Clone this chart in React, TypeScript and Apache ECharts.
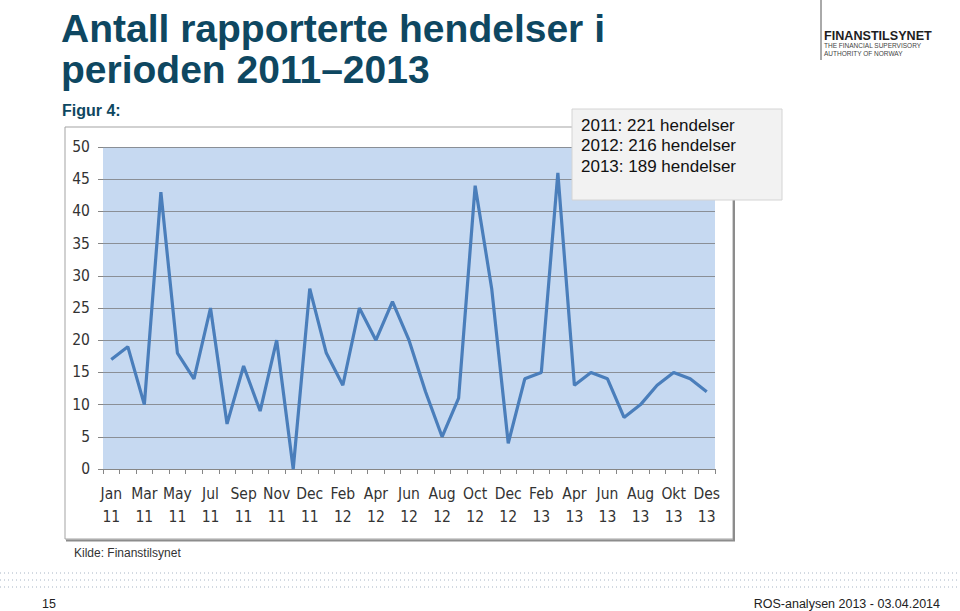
import React, { useEffect, useRef } from "react";
import * as echarts from "echarts";

const categories = [
  "Jan 11", "Feb 11", "Mar 11", "Apr 11", "May 11", "Jun 11", "Jul 11", "Aug 11", "Sep 11", "Oct 11", "Nov 11", "Des 11", "Dec 11",
  "Jan 12", "Feb 12", "Mar 12", "Apr 12", "May 12", "Jun 12", "Jul 12", "Aug 12", "Sep 12", "Oct 12", "Nov 12", "Dec 12",
  "Jan 13", "Feb 13", "Mar 13", "Apr 13", "Mai 13", "Jun 13", "Jul 13", "Aug 13", "Sep 13", "Okt 13", "Nov 13", "Des 13",
];

const values = [
  17, 19, 10, 43, 18, 14, 25, 7, 16, 9, 20, 0, 28,
  18, 13, 25, 20, 26, 20, 12, 5, 11, 44, 28, 4,
  14, 15, 46, 13, 15, 14, 8, 10, 13, 15, 14, 12,
];

const yTicks = { min: 0, max: 50, interval: 5 };

const titleLines = ["Antall rapporterte hendelser i", "perioden 2011–2013"];
const subtitle = "Figur 4:";
const summaryLines = ["2011: 221 hendelser", "2012: 216 hendelser", "2013: 189 hendelser"];
const sourceText = "Kilde: Finanstilsynet";
const pageNumber = "15";
const footerText = "ROS-analysen 2013 - 03.04.2014";
const logoLines = ["FINANSTILSYNET", "THE FINANCIAL SUPERVISORY", "AUTHORITY OF NORWAY"];

const NARROW = "'Liberation Sans Narrow', 'DejaVu Sans Condensed', 'Liberation Sans', sans-serif";
const ARIAL = "'Liberation Sans', Arial, sans-serif";

export default function App() {
  const ref = useRef<HTMLDivElement>(null);

  useEffect(() => {
    if (!ref.current) return;
    const chart = echarts.init(ref.current, undefined, { renderer: "svg" });

    const dotted = [573, 580, 587].map((y) => ({
      type: "line",
      z: 1,
      shape: { x1: 0, y1: y, x2: 960, y2: y },
      style: { stroke: "#a6b4c4", lineWidth: 1, lineDash: [1, 3] },
    }));

    const option: any = {
      animation: false,
      backgroundColor: "#ffffff",
      grid: {
        left: 103,
        top: 147,
        width: 612,
        height: 322,
        show: true,
        backgroundColor: "#c6d9f1",
        borderWidth: 0,
        containLabel: false,
      },
      xAxis: {
        type: "category",
        data: categories,
        boundaryGap: true,
        axisLine: { show: true, lineStyle: { color: "#868686", width: 1 } },
        axisTick: { show: true, interval: 0, length: 5, lineStyle: { color: "#868686" } },
        axisLabel: {
          interval: 1,
          margin: 13,
          color: "#333333",
          fontFamily: NARROW,
          fontSize: 15.5,
          lineHeight: 23,
          formatter: (v: string) => v.replace(" ", "\n"),
        },
        splitLine: { show: false },
      },
      yAxis: {
        type: "value",
        min: yTicks.min,
        max: yTicks.max,
        interval: yTicks.interval,
        axisLine: { show: false },
        axisTick: { show: true, length: 5, lineStyle: { color: "#868686" } },
        axisLabel: {
          margin: 13,
          color: "#333333",
          fontFamily: NARROW,
          fontSize: 15.5,
        },
        splitLine: { show: true, lineStyle: { color: "#8a8f96", width: 1 } },
      },
      series: [
        {
          type: "line",
          data: values,
          showSymbol: false,
          symbol: "none",
          lineStyle: { color: "#4a7ebb", width: 3.2 },
          itemStyle: { color: "#4a7ebb" },
          z: 5,
        },
      ],
      graphic: [
        // chart frame
        {
          type: "rect",
          z: -1,
          silent: true,
          shape: { x: 65, y: 127, width: 668, height: 412 },
          style: { fill: "none", stroke: "#a3a3a3", lineWidth: 1 },
        },
        {
          type: "polyline",
          z: -1,
          silent: true,
          shape: { points: [[66, 540.5], [734, 540.5], [734, 128]] },
          style: { fill: "none", stroke: "#8c8c8c", lineWidth: 2 },
        },
        // summary box
        {
          type: "rect",
          z: 100,
          shape: { x: 572, y: 109, width: 210, height: 91 },
          style: { fill: "#f2f2f2", stroke: "#d4d4d4", lineWidth: 1 },
        },
        ...summaryLines.map((t, i) => ({
          type: "text",
          z: 101,
          x: 581,
          y: 125 + i * 20.5,
          style: { text: t, fill: "#111111", fontFamily: ARIAL, fontSize: 17, verticalAlign: "middle", align: "left" },
        })),
        // title
        ...titleLines.map((t, i) => ({
          type: "text",
          z: 10,
          x: 61,
          y: 28 + i * 41,
          style: { text: t, fill: "#0e4761", fontFamily: ARIAL, fontWeight: "bold", fontSize: 39, verticalAlign: "middle", align: "left" },
        })),
        {
          type: "text",
          z: 10,
          x: 62,
          y: 110,
          style: { text: subtitle, fill: "#0e4761", fontFamily: ARIAL, fontWeight: "bold", fontSize: 16, verticalAlign: "middle", align: "left" },
        },
        // logo
        {
          type: "line",
          z: 10,
          shape: { x1: 821, y1: 0, x2: 821, y2: 60 },
          style: { stroke: "#555555", lineWidth: 1 },
        },
        {
          type: "text",
          z: 10,
          x: 824,
          y: 35.5,
          style: { text: logoLines[0], fill: "#1e1e1e", fontFamily: ARIAL, fontWeight: "bold", fontSize: 12.6, verticalAlign: "middle", align: "left" },
        },
        {
          type: "text",
          z: 10,
          x: 824,
          y: 45.5,
          style: { text: logoLines[1], fill: "#444444", fontFamily: ARIAL, fontSize: 6.5, verticalAlign: "middle", align: "left" },
        },
        {
          type: "text",
          z: 10,
          x: 824,
          y: 53,
          style: { text: logoLines[2], fill: "#444444", fontFamily: ARIAL, fontSize: 6.5, verticalAlign: "middle", align: "left" },
        },
        // footer
        {
          type: "text",
          z: 10,
          x: 74,
          y: 553,
          style: { text: sourceText, fill: "#333333", fontFamily: ARIAL, fontSize: 12, verticalAlign: "middle", align: "left" },
        },
        ...dotted,
        {
          type: "text",
          z: 10,
          x: 42,
          y: 604,
          style: { text: pageNumber, fill: "#222222", fontFamily: ARIAL, fontSize: 12.5, verticalAlign: "middle", align: "left" },
        },
        {
          type: "text",
          z: 10,
          x: 940,
          y: 604,
          style: { text: footerText, fill: "#222222", fontFamily: ARIAL, fontSize: 12.5, verticalAlign: "middle", align: "right" },
        },
      ],
    };

    chart.setOption(option);
    return () => chart.dispose();
  }, []);

  return (
    <div
      ref={ref}
      style={{ position: "fixed", left: 0, top: 0, width: 960, height: 611, background: "#fff" }}
    />
  );
}
